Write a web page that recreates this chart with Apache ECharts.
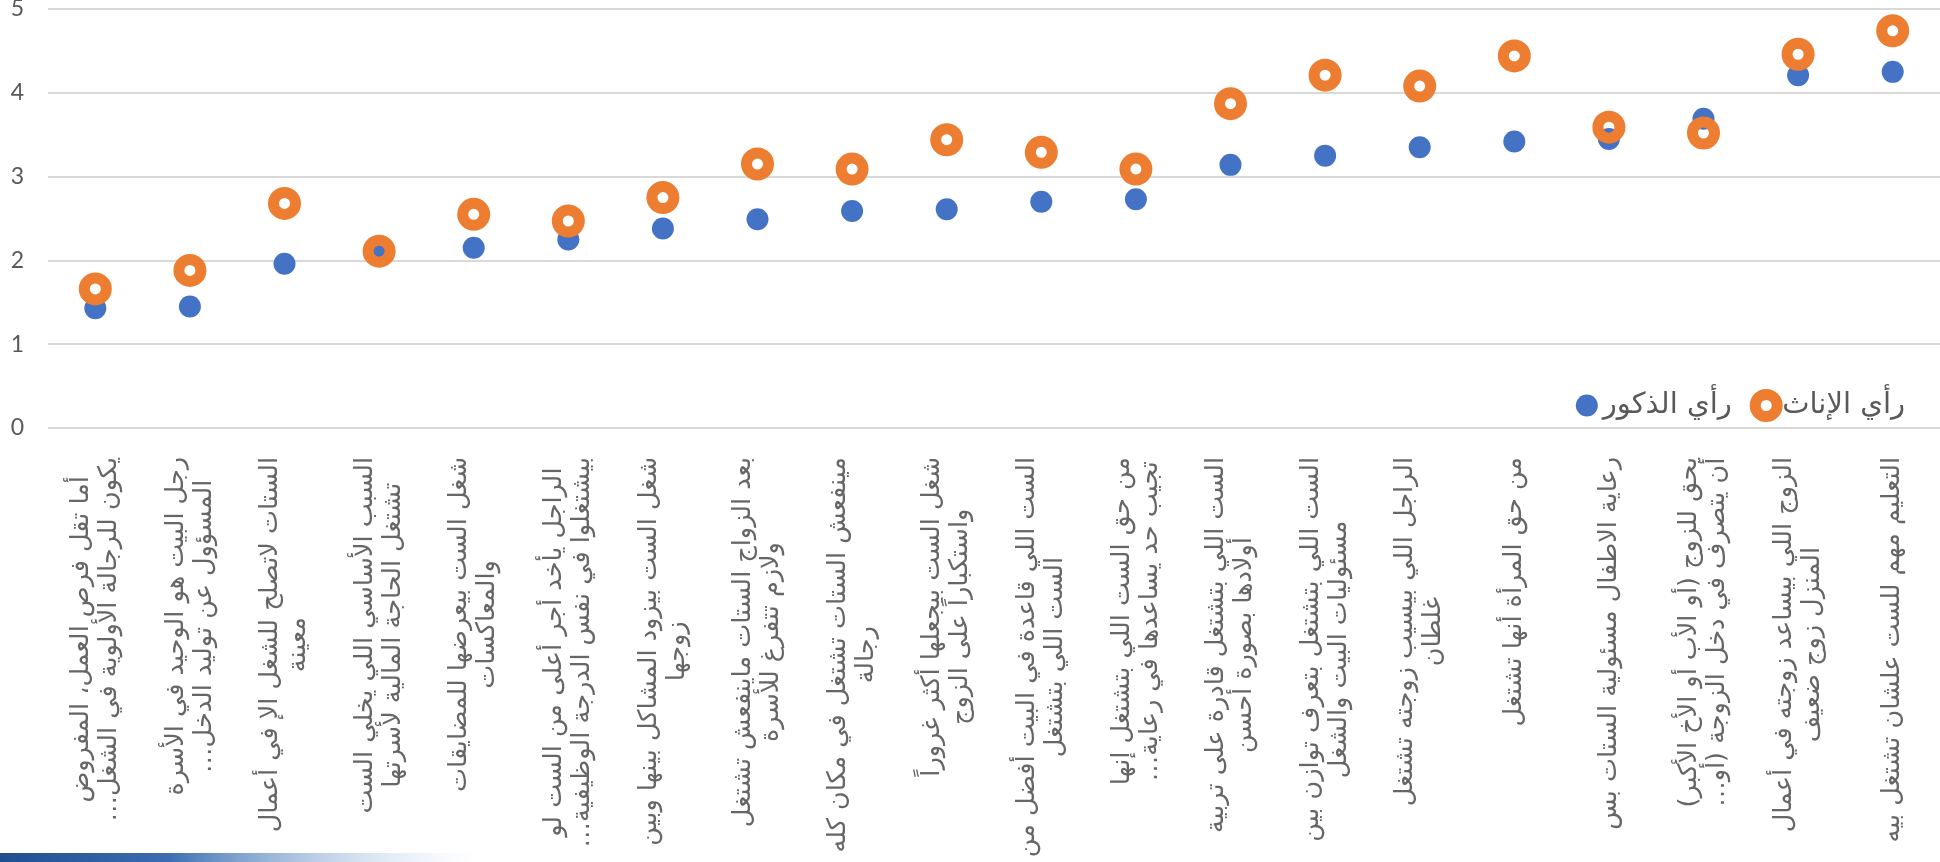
<!DOCTYPE html>
<html>
<head>
<meta charset="utf-8">
<script src="https://cdn.jsdelivr.net/npm/echarts@6/dist/echarts.min.js"></script>
<style>
  html, body { margin: 0; padding: 0; background: #ffffff; }
  #chart { width: 1940px; height: 862px; }
</style>
</head>
<body>
<div id="chart"></div>
<script>
const categories = [
  'أما تقل فرص العمل، المفروض\nيكون للرجالة الأولوية في الشغل…',
  'رجل البيت هو الوحيد في الأسرة\nالمسؤول عن توليد الدخل…',
  'الستات لاتصلح للشغل الإ في أعمال\nمعينة',
  'السبب الأساسي اللي يخلي الست\nتشتغل الحاجة المالية لأسرتها',
  'شغل الست بيعرضها للمضايقات\nوالمعاكسات',
  'الراجل يأخد أجر أعلى من الست لو\nبيشتغلوا في نفس الدرجة الوظيفية…',
  'شغل الست بيزود المشاكل بينها وبين\nزوجها',
  'بعد الزواج الستات ماينفعش تشتغل\nولازم تتفرغ للأسرة',
  'مينفعش الستات تشتغل في مكان كله\nرجالة',
  'شغل الست بيجعلها أكثر غروراً\nواستكباراً على الزوج',
  'الست اللي قاعدة في البيت أفضل من\nالست اللي بتشتغل',
  'من حق الست اللي بتشتغل إنها\nتجيب حد يساعدها في رعاية…',
  'الست اللي بتشتغل قادرة على تربية\nأولادها بصورة أحسن',
  'الست اللي بتشتغل بتعرف توازن بين\nمسئوليات البيت والشغل',
  'الراجل اللي بيسيب زوجته تشتغل\nغلطان',
  'من حق المرأة أنها تشتغل',
  'رعاية الاطفال مسئولية الستات بس',
  'يحق للزوج (أو الأب أو الأخ الأكبر)\nأن يتصرف في دخل الزوجة (أو…',
  'الزوج اللي بيساعد زوجته في أعمال\nالمنزل زوج ضعيف',
  'التعليم مهم للست علشان تشتغل بيه'
];
const malesName = 'رأي الذكور';
const femalesName = 'رأي الإناث';
const males = [1.43, 1.45, 1.96, 2.11, 2.15, 2.25, 2.38, 2.49, 2.59, 2.61, 2.70, 2.73, 3.14, 3.25, 3.35, 3.42, 3.45, 3.69, 4.21, 4.25];
const females = [1.66, 1.88, 2.68, 2.11, 2.55, 2.47, 2.75, 3.15, 3.09, 3.44, 3.29, 3.09, 3.87, 4.21, 4.08, 4.44, 3.59, 3.52, 4.46, 4.74];
const yMin = 0, yMax = 5, yStep = 1;

const RLM = '\u200F';
function rtlLines(s) {
  return s.split('\n').map(l => RLM + l + RLM).join('\n');
}

const chart = echarts.init(document.getElementById('chart'));
const arabicFont = '"DejaVu Sans", sans-serif';
chart.setOption({
  animation: false,
  backgroundColor: '#ffffff',
  grid: { left: 48, right: 0, top: 9, bottom: 434, containLabel: false, outerBoundsMode: 'none' },
  legend: {
    right: 30, top: 384,
    itemWidth: 22, itemHeight: 22, itemGap: 18,
    itemStyle: { borderWidth: 'inherit' },
    data: [malesName, femalesName],
    textStyle: { color: '#595959', fontSize: 29, fontFamily: arabicFont }
  },
  xAxis: {
    type: 'category',
    data: categories,
    boundaryGap: true,
    axisLine: { show: false },
    axisTick: { show: false },
    splitLine: { show: false },
    axisLabel: {
      interval: 0,
      rotate: 90,
      margin: 29,
      formatter: v => '{c|' + rtlLines(v) + '}',
      rich: { c: { align: 'center', fontSize: 25.5, lineHeight: 28, color: '#666666', fontFamily: arabicFont } }
    }
  },
  yAxis: {
    type: 'value',
    min: yMin, max: yMax, interval: yStep,
    axisLine: { show: false },
    axisTick: { show: false },
    splitLine: { lineStyle: { color: '#d9d9d9', width: 2 } },
    axisLabel: { color: '#595959', fontSize: 23, fontFamily: 'Lato, sans-serif', margin: 24 }
  },
  series: [
    {
      name: malesName, type: 'scatter', data: males,
      symbol: 'circle', symbolSize: 22, z: 2,
      itemStyle: { color: '#4472C4', opacity: 1 }
    },
    {
      name: femalesName, type: 'scatter', data: females,
      symbol: 'circle', symbolSize: 22, z: 3,
      itemStyle: { color: 'rgba(0,0,0,0)', borderColor: '#ED7D31', borderWidth: 11, opacity: 1 }
    }
  ],
  graphic: [{
    type: 'rect', left: 0, bottom: 0,
    shape: { width: 480, height: 9 },
    style: {
      fill: new echarts.graphic.LinearGradient(0, 0, 1, 0, [
        { offset: 0, color: '#1f4f8f' },
        { offset: 0.35, color: '#3a6eb0' },
        { offset: 1, color: 'rgba(200,220,240,0)' }
      ])
    },
    silent: true
  }]
});
</script>
</body>
</html>
